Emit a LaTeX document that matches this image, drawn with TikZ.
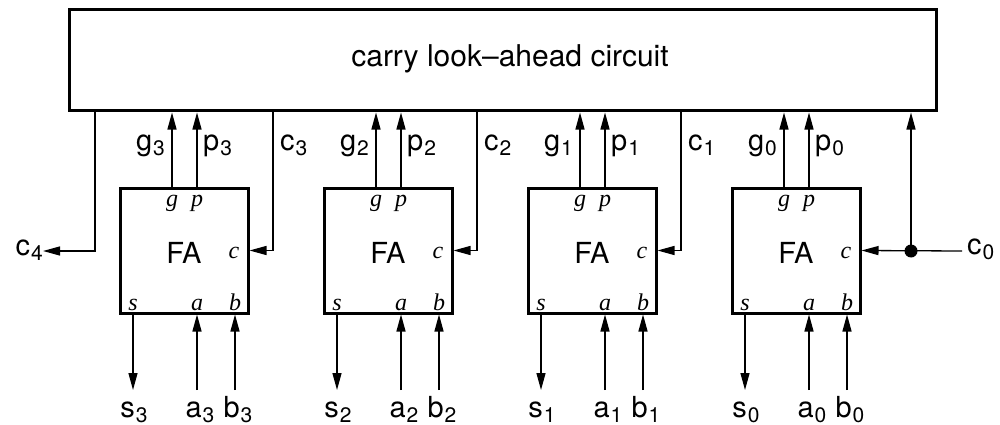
\documentclass[tikz,border=0pt]{standalone}
\usepackage{fontspec}
\setmainfont{TeX Gyre Heros}
\newfontfamily\tms{Liberation Serif}
\usetikzlibrary{arrows.meta}
\newcommand{\sig}[2]{\fontsize{29}{29}\selectfont #1\kern1pt\raisebox{-5pt}{\fontsize{21}{21}\selectfont #2}}
\begin{document}
\begin{tikzpicture}[x=1pt,y=-1pt,
  box/.style={draw,line width=3pt,inner sep=0pt},
  wire/.style={line width=1.3pt},
  arr/.style={wire,-{Triangle[length=17pt,width=9pt]}},
  pin/.style={font=\fontsize{24}{24}\selectfont\tms\itshape,inner sep=0pt,anchor=base},
  lab/.style={inner sep=0pt},
  dot/.style={circle,fill,inner sep=0pt,minimum size=13pt}]
\useasboundingbox (0,0) rectangle (1000,425);
% carry look-ahead box
\node[box,minimum width=867pt,minimum height=101pt] (cla) at (503,60.5) {};
\node[lab,anchor=base,font=\fontsize{30}{30}\selectfont] (title) at (510,67) {carry look–ahead circuit};
% full adders
\foreach \i/\x in {3/184,2/388,1/592,0/796}{
  \node[box,minimum width=128pt,minimum height=125pt] (fa\i) at (\x,250.5) {};
  \node[lab,anchor=base,font=\fontsize{29}{29}\selectfont] (faT\i) at (\x,263) {FA};
  \node[pin] (pg\i) at (\x-12,206) {g};
  \node[pin] (pp\i) at (\x+13,206) {p};
  \node[pin] (pc\i) at (\x+50,258) {c};
  \node[pin] (ps\i) at (\x-51,310) {s};
  \node[pin] (pa\i) at (\x+13,310) {a};
  \node[pin] (pb\i) at (\x+51,310) {b};
  % g, p outputs
  \draw[arr] ([xshift=-12pt]fa\i.north) -- ([xshift=-12pt]fa\i.north |- cla.south);
  \draw[arr] ([xshift=13pt]fa\i.north) -- ([xshift=13pt]fa\i.north |- cla.south);
  \node[lab,anchor=base east] (lg\i) at (\x-19,150) {\sig{g}{\i}};
  \node[lab,anchor=base west] (lp\i) at (\x+19,150) {\sig{p}{\i}};
  % s output, a b inputs
  \coordinate (so\i) at (\x-51,390);
  \coordinate (ai\i) at (\x+13,390);
  \coordinate (bi\i) at (\x+51,390);
  \draw[arr] ([xshift=-51pt]fa\i.south) -- (so\i);
  \draw[arr] (ai\i) -- ([xshift=13pt]fa\i.south);
  \draw[arr] (bi\i) -- ([xshift=51pt]fa\i.south);
  \node[lab,anchor=base] (ls\i) at (\x-50,417) {\sig{s}{\i}};
  \node[lab,anchor=base] (la\i) at (\x+16,417) {\sig{a}{\i}};
  \node[lab,anchor=base] (lb\i) at (\x+54,417) {\sig{b}{\i}};
}
% carries between stages
\foreach \i/\x in {3/184,2/388,1/592}{
  \coordinate (ct\i) at (\x+89,0);
  \draw[arr] (cla.south -| ct\i) |- (fa\i.east);
  \node[lab,anchor=base west] (lc\i) at (\x+96,150) {\sig{c}{\i}};
}
% c4 output
\coordinate (c4t) at (95,0);
\coordinate (c4o) at (43,251);
\draw[arr] (cla.south -| c4t) |- (c4o);
\node[lab,anchor=base east] (lc4) at (43,255) {\sig{c}{4}};
% c0 input
\coordinate (c0i) at (962,251);
\node[dot] (jn) at (911,251) {};
\draw[arr] (c0i) -- (fa0.east);
\draw[arr] (jn.center) -- (jn |- cla.south);
\node[lab,anchor=base west] (lc0) at (967,254) {\sig{c}{0}};
\end{tikzpicture}
\end{document}
